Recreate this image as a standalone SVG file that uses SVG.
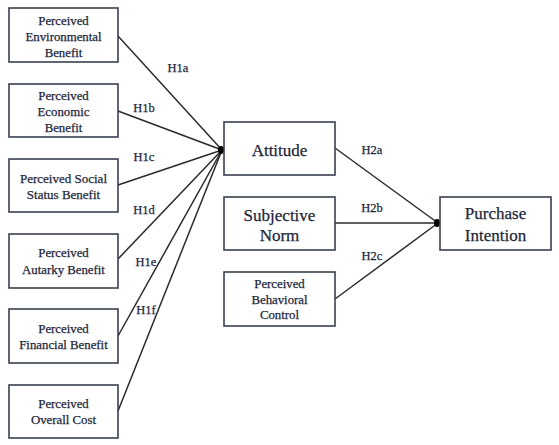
<svg xmlns="http://www.w3.org/2000/svg" width="559" height="445" viewBox="0 0 559 445">
<style>
.box{fill:#fff;stroke:#3a4050;stroke-width:1.6}
.t{font-family:"Liberation Serif","Times New Roman",serif;fill:#22263a;stroke:#22263a;stroke-width:0.25;text-anchor:middle;dominant-baseline:central}
.s{font-size:12.8px}
.m{font-size:13px}
.b{font-size:17px}
.lbl{font-family:"Liberation Serif","Times New Roman",serif;fill:#22263a;stroke:#22263a;stroke-width:0.25;font-size:12.5px;text-anchor:middle;dominant-baseline:central}
.c{stroke:#2b2b2b;stroke-width:1.5;fill:none}
</style>
<rect width="559" height="445" fill="#fff"/>
<g id="connectors">
<line class="c" x1="118" y1="36" x2="222" y2="150"/>
<line class="c" x1="118" y1="111" x2="222" y2="150"/>
<line class="c" x1="118" y1="185" x2="222" y2="150"/>
<line class="c" x1="118" y1="259" x2="222" y2="150"/>
<line class="c" x1="118" y1="336" x2="222" y2="150"/>
<line class="c" x1="118" y1="411" x2="222" y2="150"/>
<ellipse cx="221" cy="150" rx="3" ry="4" fill="#000"/>
<line class="c" x1="335" y1="148" x2="438" y2="223"/>
<line class="c" x1="335" y1="223" x2="438" y2="223"/>
<line class="c" x1="335" y1="299" x2="438" y2="223"/>
<ellipse cx="437" cy="223" rx="3" ry="4" fill="#000"/>
<text class="lbl" x="178" y="68">H1a</text>
<text class="lbl" x="144" y="108">H1b</text>
<text class="lbl" x="144" y="157">H1c</text>
<text class="lbl" x="144" y="210">H1d</text>
<text class="lbl" x="146" y="262">H1e</text>
<text class="lbl" x="146" y="310">H1f</text>
<text class="lbl" x="372" y="150">H2a</text>
<text class="lbl" x="372" y="208">H2b</text>
<text class="lbl" x="372" y="256">H2c</text>
</g>
<g id="env"><rect class="box" x="9" y="8" width="109" height="54"/>
<text class="t s" x="63.5" y="21">Perceived</text><text class="t s" x="63.5" y="37">Environmental</text><text class="t s" x="63.5" y="53">Benefit</text></g>
<g id="eco"><rect class="box" x="9" y="84" width="109" height="53"/>
<text class="t s" x="63.5" y="96">Perceived</text><text class="t s" x="63.5" y="112">Economic</text><text class="t s" x="63.5" y="128">Benefit</text></g>
<g id="soc"><rect class="box" x="9" y="159" width="109" height="53"/>
<text class="t m" x="63.5" y="178">Perceived Social</text><text class="t m" x="63.5" y="194">Status Benefit</text></g>
<g id="aut"><rect class="box" x="9" y="234" width="109" height="54"/>
<text class="t s" x="63.5" y="253">Perceived</text><text class="t s" x="63.5" y="270">Autarky  Benefit</text></g>
<g id="fin"><rect class="box" x="9" y="309" width="109" height="54"/>
<text class="t s" x="63.5" y="329">Perceived</text><text class="t s" x="63.5" y="345">Financial  Benefit</text></g>
<g id="cost"><rect class="box" x="9" y="385" width="109" height="53"/>
<text class="t s" x="63.5" y="404">Perceived</text><text class="t s" x="63.5" y="420">Overall  Cost</text></g>
<g id="att"><rect class="box" x="224" y="122" width="111" height="53"/>
<text class="t b" x="279.5" y="150">Attitude</text></g>
<g id="sn"><rect class="box" x="224" y="197" width="111" height="53"/>
<text class="t b" x="279.5" y="215">Subjective</text><text class="t b" x="279.5" y="235">Norm</text></g>
<g id="pbc"><rect class="box" x="224" y="272" width="111" height="54"/>
<text class="t s" x="279.5" y="284">Perceived</text><text class="t s" x="279.5" y="300">Behavioral</text><text class="t s" x="279.5" y="315">Control</text></g>
<g id="pi"><rect class="box" x="440" y="197" width="111" height="53"/>
<text class="t b" x="495.5" y="213">Purchase</text><text class="t b" x="495.5" y="235">Intention</text></g>
</svg>
